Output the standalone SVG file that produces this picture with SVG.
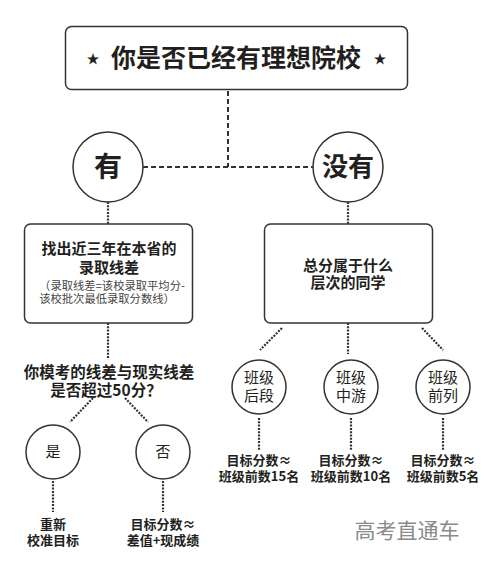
<svg xmlns="http://www.w3.org/2000/svg" width="491" height="569" viewBox="0 0 491 569">
<style>
text{font-family:"Noto Sans CJK SC","Noto Sans",sans-serif;fill:#231f20;text-anchor:middle}
.b{font-weight:700}
.box{fill:#fff;stroke:#333;stroke-width:1.5}
.cir{fill:#fff;stroke:#333;stroke-width:1.5}
.dash{fill:none;stroke:#333;stroke-width:2;stroke-dasharray:5 3}
.dot{fill:none;stroke:#333;stroke-width:2.2;stroke-dasharray:2 1.3}
.small{font-size:11.3px;fill:#444}
.t15{font-size:15px}
.t13{font-size:13px}
</style>
<rect width="491" height="569" fill="#fff"/>
<g id="connectors">
<path class="dash" d="M228 91 V167 M143 167 H313"/>
<path class="dot" d="M108 202 V224 M348 202 V224"/>
<path class="dot" d="M108 323 V358 M93 398 L70 422 M125 398 L148 422 M53 481 V512 M163 481 V512"/>
<path class="dot" d="M282 328 L260 350 M348 323 V354 M422 328 L443 350"/>
<path class="dot" d="M259 418 V450 M351 418 V450 M443 418 V450"/>
</g>
<g id="title">
<rect class="box" x="65.5" y="26.5" width="342" height="63" rx="6"/>
<text x="93" y="63" font-size="13">★</text>
<text class="b" x="236" y="67" font-size="25">你是否已经有理想院校</text>
<text x="380" y="63" font-size="13">★</text>
</g>
<g id="you">
<circle class="cir" cx="108" cy="167" r="35"/>
<text class="b" x="108" y="177" font-size="28">有</text>
</g>
<g id="meiyou">
<circle class="cir" cx="348" cy="167" r="35"/>
<text class="b" x="348" y="176" font-size="26">没有</text>
</g>
<g id="box-left">
<rect class="box" x="24.5" y="224" width="168" height="99" rx="6"/>
<text class="b t15" x="109" y="254">找出近三年在本省的</text>
<text class="b t15" x="109" y="273">录取线差</text>
<text class="small" x="112" y="290">（录取线差=该校录取平均分-</text>
<text class="small" x="107" y="303">该校批次最低录取分数线）</text>
</g>
<g id="box-right">
<rect class="box" x="264.5" y="224" width="168" height="99" rx="6"/>
<text class="b t15" x="348" y="271">总分属于什么</text>
<text class="b t15" x="348" y="288">层次的同学</text>
</g>
<g id="question">
<text class="b" x="109" y="378" font-size="15.5">你模考的线差与现实线差</text>
<text class="b" x="106" y="396" font-size="15.5">是否超过50分？</text>
</g>
<g id="shi">
<circle class="cir" cx="53" cy="452" r="27"/>
<text class="t15" x="53" y="457">是</text>
</g>
<g id="fou">
<circle class="cir" cx="163" cy="452" r="27"/>
<text class="t15" x="163" y="457">否</text>
</g>
<g id="res-shi">
<text class="b t13" x="53" y="529">重新</text>
<text class="b t13" x="53" y="545">校准目标</text>
</g>
<g id="res-fou">
<text class="b t13" x="163" y="529">目标分数≈</text>
<text class="b t13" x="163" y="545">差值+现成绩</text>
</g>
<g id="c-hou">
<circle class="cir" cx="259" cy="387" r="27"/>
<text class="t15" x="259" y="383">班级</text>
<text class="t15" x="259" y="401">后段</text>
</g>
<g id="c-zhong">
<circle class="cir" cx="351" cy="387" r="27"/>
<text class="t15" x="351" y="383">班级</text>
<text class="t15" x="351" y="401">中游</text>
</g>
<g id="c-qian">
<circle class="cir" cx="443" cy="387" r="27"/>
<text class="t15" x="443" y="383">班级</text>
<text class="t15" x="443" y="401">前列</text>
</g>
<g id="r-hou">
<text class="b t13" x="259" y="465">目标分数≈</text>
<text class="b t13" x="259" y="481">班级前数15名</text>
</g>
<g id="r-zhong">
<text class="b t13" x="351" y="465">目标分数≈</text>
<text class="b t13" x="351" y="481">班级前数10名</text>
</g>
<g id="r-qian">
<text class="b t13" x="443" y="465">目标分数≈</text>
<text class="b t13" x="443" y="481">班级前数5名</text>
</g>
<text x="407" y="538" font-size="21" style="fill:#8a8a8a">高考直通车</text>
</svg>
